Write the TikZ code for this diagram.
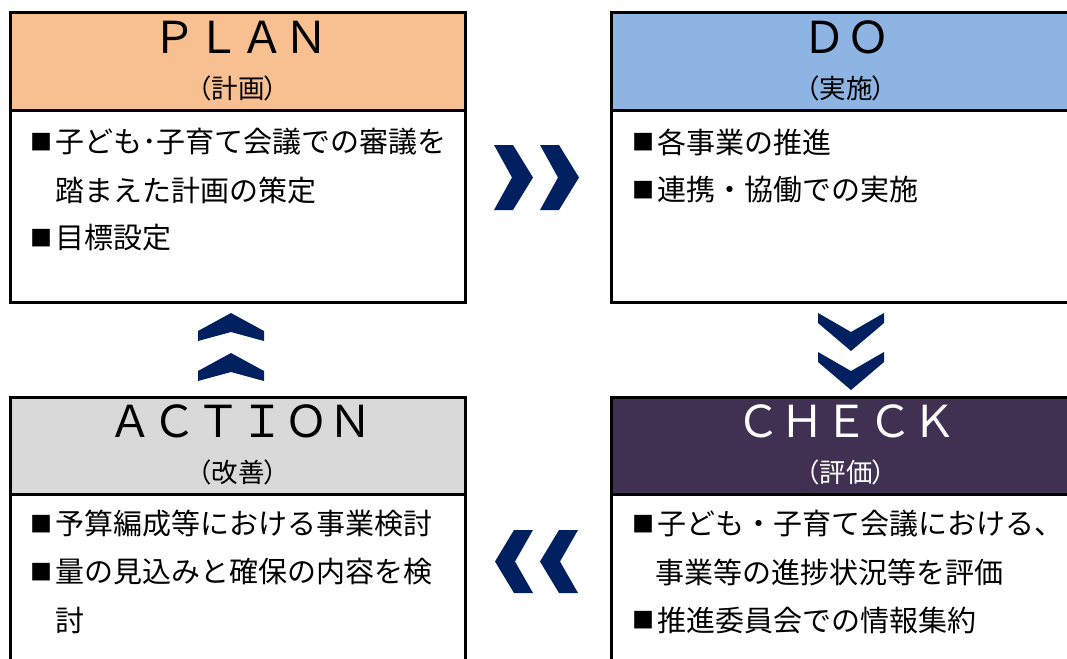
\documentclass[tikz,border=0pt]{standalone}
\usepackage{fontspec}
\setmainfont{Noto Sans CJK JP}
\newfontfamily\jpp[RawFeature=+palt]{Noto Sans CJK JP}
\definecolor{planc}{RGB}{248,192,144}
\definecolor{doc}{RGB}{141,180,226}
\definecolor{actc}{RGB}{217,217,217}
\definecolor{chkc}{RGB}{64,49,82}
\definecolor{navy}{RGB}{0,32,96}
\newcommand{\bx}{\makebox[25pt][l]{\raisebox{2.5pt}{\fontsize{22}{22}\selectfont ■}}}
\begin{document}
\begin{tikzpicture}[x=1pt,y=-1pt,
  box/.style={draw=black,line width=3pt,anchor=north west,inner sep=0pt,outer sep=0pt},
  ttl/.style={font=\fontsize{44}{44}\selectfont,inner sep=0pt},
  sub/.style={font=\jpp\fontsize{26.5}{26.5}\selectfont,inner sep=0pt},
  body/.style={font=\fontsize{29}{29}\selectfont,inner sep=0pt,anchor=west},
  chev/.style={fill=navy,draw=none}]
\useasboundingbox (0,0) rectangle (1067,658);
\clip (0,0) rectangle (1067,658);
% boxes
\node[box,fill=planc,minimum width=455pt,minimum height=98pt] (planh) at (10,13) {};
\node[box,fill=white,minimum width=455pt,minimum height=191pt] (planb) at (10,111) {};
\node[box,fill=doc,minimum width=470pt,minimum height=98pt] (doh) at (611,13) {};
\node[box,fill=white,minimum width=470pt,minimum height=191pt] (dob) at (611,111) {};
\node[box,fill=actc,minimum width=455pt,minimum height=97pt] (acth) at (10,397) {};
\node[box,fill=white,minimum width=455pt,minimum height=200pt] (actb) at (10,494) {};
\node[box,fill=chkc,minimum width=470pt,minimum height=97pt] (chkh) at (611,397) {};
\node[box,fill=white,minimum width=470pt,minimum height=200pt] (chkb) at (611,494) {};
% titles
\node[ttl] (plant) at (240,37) {ＰＬＡＮ};
\node[sub] (plans) at (238,88) {（計画）};
\node[ttl] (dot) at (846,37) {ＤＯ};
\node[sub] (dos) at (846,88) {（実施）};
\node[ttl] (actt) at (240,421) {ＡＣＴＩＯＮ};
\node[sub] (acts) at (238,472) {（改善）};
\node[ttl,text=white] (chkt) at (846,421) {ＣＨＥＣＫ};
\node[sub,text=white] (chks) at (846,472) {（評価）};
% body texts
\node[body] (p1) at (30,142) {\bx 子ども･子育て会議での審議を};
\node[body] (p2) at (55,190) {踏まえた計画の策定};
\node[body] (p3) at (30,238) {\bx 目標設定};
\node[body] (d1) at (632,142) {\bx 各事業の推進};
\node[body] (d2) at (632,190) {\bx 連携・協働での実施};
\node[body] (a1) at (30,524) {\bx 予算編成等における事業検討};
\node[body] (a2) at (30,572) {\bx 量の見込みと確保の内容を検};
\node[body] (a3) at (55,620) {討};
\node[body] (c1) at (632,524) {\bx 子ども・子育て会議における、};
\node[body] (c2) at (655,572) {事業等の進捗状況等を評価};
\node[body] (c3) at (632,620) {\bx 推進委員会での情報集約};
% chevrons right
\foreach \x in {494,540}{
  \fill[chev] (\x,145) -- (\x+19,145) -- (\x+39,177.5) -- (\x+19,210) -- (\x,210) -- (\x+18,177.5) -- cycle;}
% chevrons left
\foreach \x in {495,540}{
  \fill[chev] (\x,561.5) -- (\x+19,530) -- (\x+38,530) -- (\x+20,561.5) -- (\x+38,593) -- (\x+19,593) -- cycle;}
% chevrons up
\foreach \y in {313,353}{
  \fill[chev] (231,\y) -- (264,\y+18) -- (264,\y+28) -- (231,\y+19) -- (198,\y+28) -- (198,\y+18) -- cycle;}
% chevrons down
\foreach \y in {313,352}{
  \fill[chev] (818,\y) -- (851,\y+19) -- (884,\y) -- (884,\y+10) -- (851,\y+38) -- (818,\y+10) -- cycle;}
\end{tikzpicture}
\end{document}
